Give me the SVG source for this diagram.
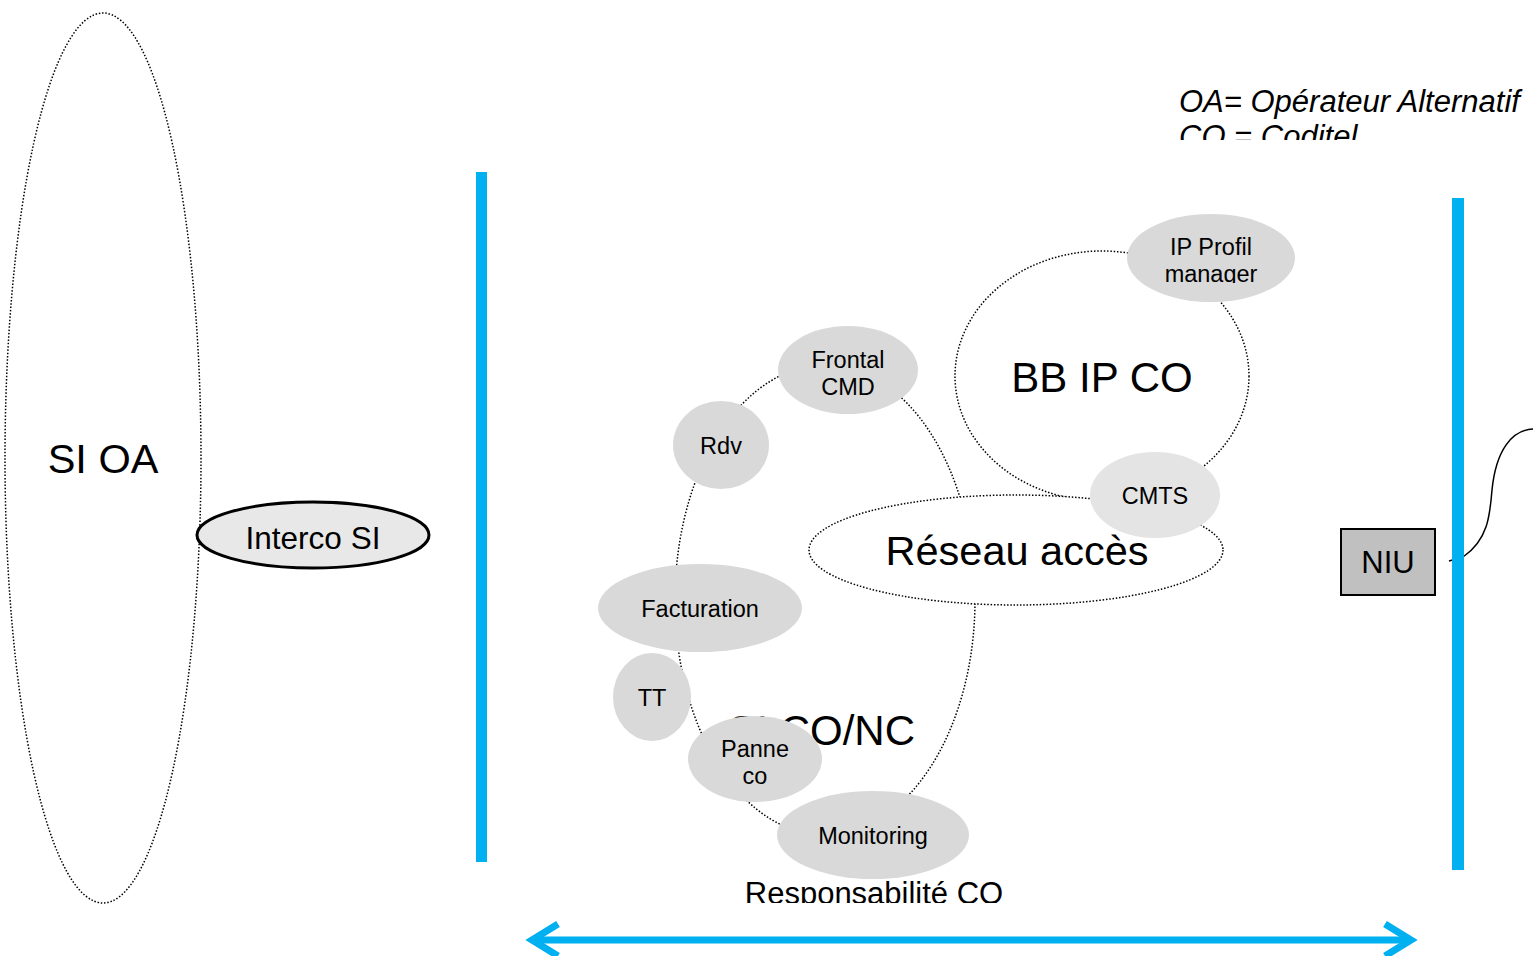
<svg xmlns="http://www.w3.org/2000/svg" width="1539" height="956" viewBox="0 0 1539 956">
<style>
text{font-family:"Liberation Sans",Arial,sans-serif;fill:#000;text-anchor:middle}
.dot{fill:none;stroke:#000;stroke-width:1.5;stroke-dasharray:1.5 1.8}
.dotw{fill:#fff;stroke:#000;stroke-width:1.5;stroke-dasharray:1.5 1.8}
.g{fill:#d9d9d9;stroke:none}
.s{font-size:23.5px}
.big{font-size:41.5px}
.bar{fill:#00b0f0}
</style>
<defs>
<clipPath id="cl1"><rect x="1150" y="60" width="389" height="80"/></clipPath>
<clipPath id="cl2"><rect x="700" y="860" width="340" height="43"/></clipPath>
<clipPath id="cl3"><rect x="1120" y="220" width="180" height="63"/></clipPath>
</defs>
<rect width="1539" height="956" fill="#fff"/>

<g id="legend" clip-path="url(#cl1)">
<text x="1179" y="112" style="font-size:31px;font-style:italic;text-anchor:start">OA= Opérateur Alternatif</text>
<text x="1179" y="147" style="font-size:31px;font-style:italic;text-anchor:start">CO = Coditel</text>
</g>

<g id="si-oa">
<ellipse class="dot" cx="103" cy="458" rx="98" ry="445"/>
<text class="big" x="103" y="473">SI OA</text>
</g>

<g id="interco-si">
<ellipse cx="313" cy="535" rx="116" ry="33" fill="#e8e8e8" stroke="#000" stroke-width="3"/>
<text x="313" y="549" style="font-size:31.5px">Interco SI</text>
</g>

<g id="bars">
<rect class="bar" x="476" y="172" width="11" height="690"/>
<rect class="bar" x="1452" y="198" width="12" height="672"/>
</g>

<g id="si-co-nc">
<ellipse class="dot" cx="825" cy="600" rx="150" ry="235"/>
<text x="915" y="745" style="font-size:42px;text-anchor:end">SI CO/NC</text>
</g>

<g id="bb-ip-co">
<ellipse class="dot" cx="1102" cy="376" rx="147" ry="125"/>
<text x="1102" y="392" style="font-size:42px">BB IP CO</text>
</g>

<g id="reseau-acces">
<ellipse class="dotw" cx="1016" cy="550" rx="207" ry="55"/>
<text class="big" x="1017" y="565">Réseau accès</text>
</g>

<g id="ip-profil-manager">
<ellipse class="g" cx="1211" cy="258" rx="84" ry="44"/>
<g clip-path="url(#cl3)">
<text class="s" x="1211" y="255">IP Profil</text>
<text class="s" x="1211" y="282">manager</text>
</g>
</g>

<g id="frontal-cmd">
<ellipse class="g" cx="848" cy="370" rx="70" ry="44"/>
<text class="s" x="848" y="368">Frontal</text>
<text class="s" x="848" y="395">CMD</text>
</g>

<g id="rdv">
<ellipse class="g" cx="721" cy="445" rx="48" ry="44"/>
<text class="s" x="721" y="454">Rdv</text>
</g>

<g id="facturation">
<ellipse class="g" cx="700" cy="608" rx="102" ry="44"/>
<text class="s" x="700" y="617">Facturation</text>
</g>

<g id="tt">
<ellipse class="g" cx="652" cy="697" rx="39" ry="44"/>
<text class="s" x="652" y="706">TT</text>
</g>

<g id="panne-co">
<ellipse class="g" cx="755" cy="759" rx="67" ry="43"/>
<text class="s" x="755" y="757">Panne</text>
<text class="s" x="755" y="784">co</text>
</g>

<g id="monitoring">
<ellipse class="g" cx="873" cy="835" rx="96" ry="44"/>
<text class="s" x="873" y="844">Monitoring</text>
</g>

<g id="cmts">
<ellipse cx="1155" cy="495" rx="65" ry="43" fill="#e4e4e4"/>
<text class="s" x="1155" y="504">CMTS</text>
</g>

<g id="niu">
<rect x="1341" y="529" width="94" height="66" fill="#c0c0c0" stroke="#000" stroke-width="2"/>
<text x="1388" y="573" style="font-size:31px">NIU</text>
</g>

<g id="responsabilite" clip-path="url(#cl2)">
<text x="874" y="904" style="font-size:31px">Responsabilité CO</text>
</g>

<g id="connectors">
<path d="M1449,561 L1463,557 C1488,540 1490,515 1492,490 C1496,450 1512,430 1533,429" fill="none" stroke="#000" stroke-width="1.5"/>
<rect class="bar" x="1452" y="540" width="12" height="40"/>
<g stroke="#00b0f0" stroke-width="7" fill="none" stroke-linecap="butt">
<line x1="532" y1="940" x2="1411" y2="940"/>
<polyline points="558,924 532,940 558,956" stroke-linejoin="miter"/>
<polyline points="1385,924 1411,940 1385,956" stroke-linejoin="miter"/>
</g>
</g>
</svg>
